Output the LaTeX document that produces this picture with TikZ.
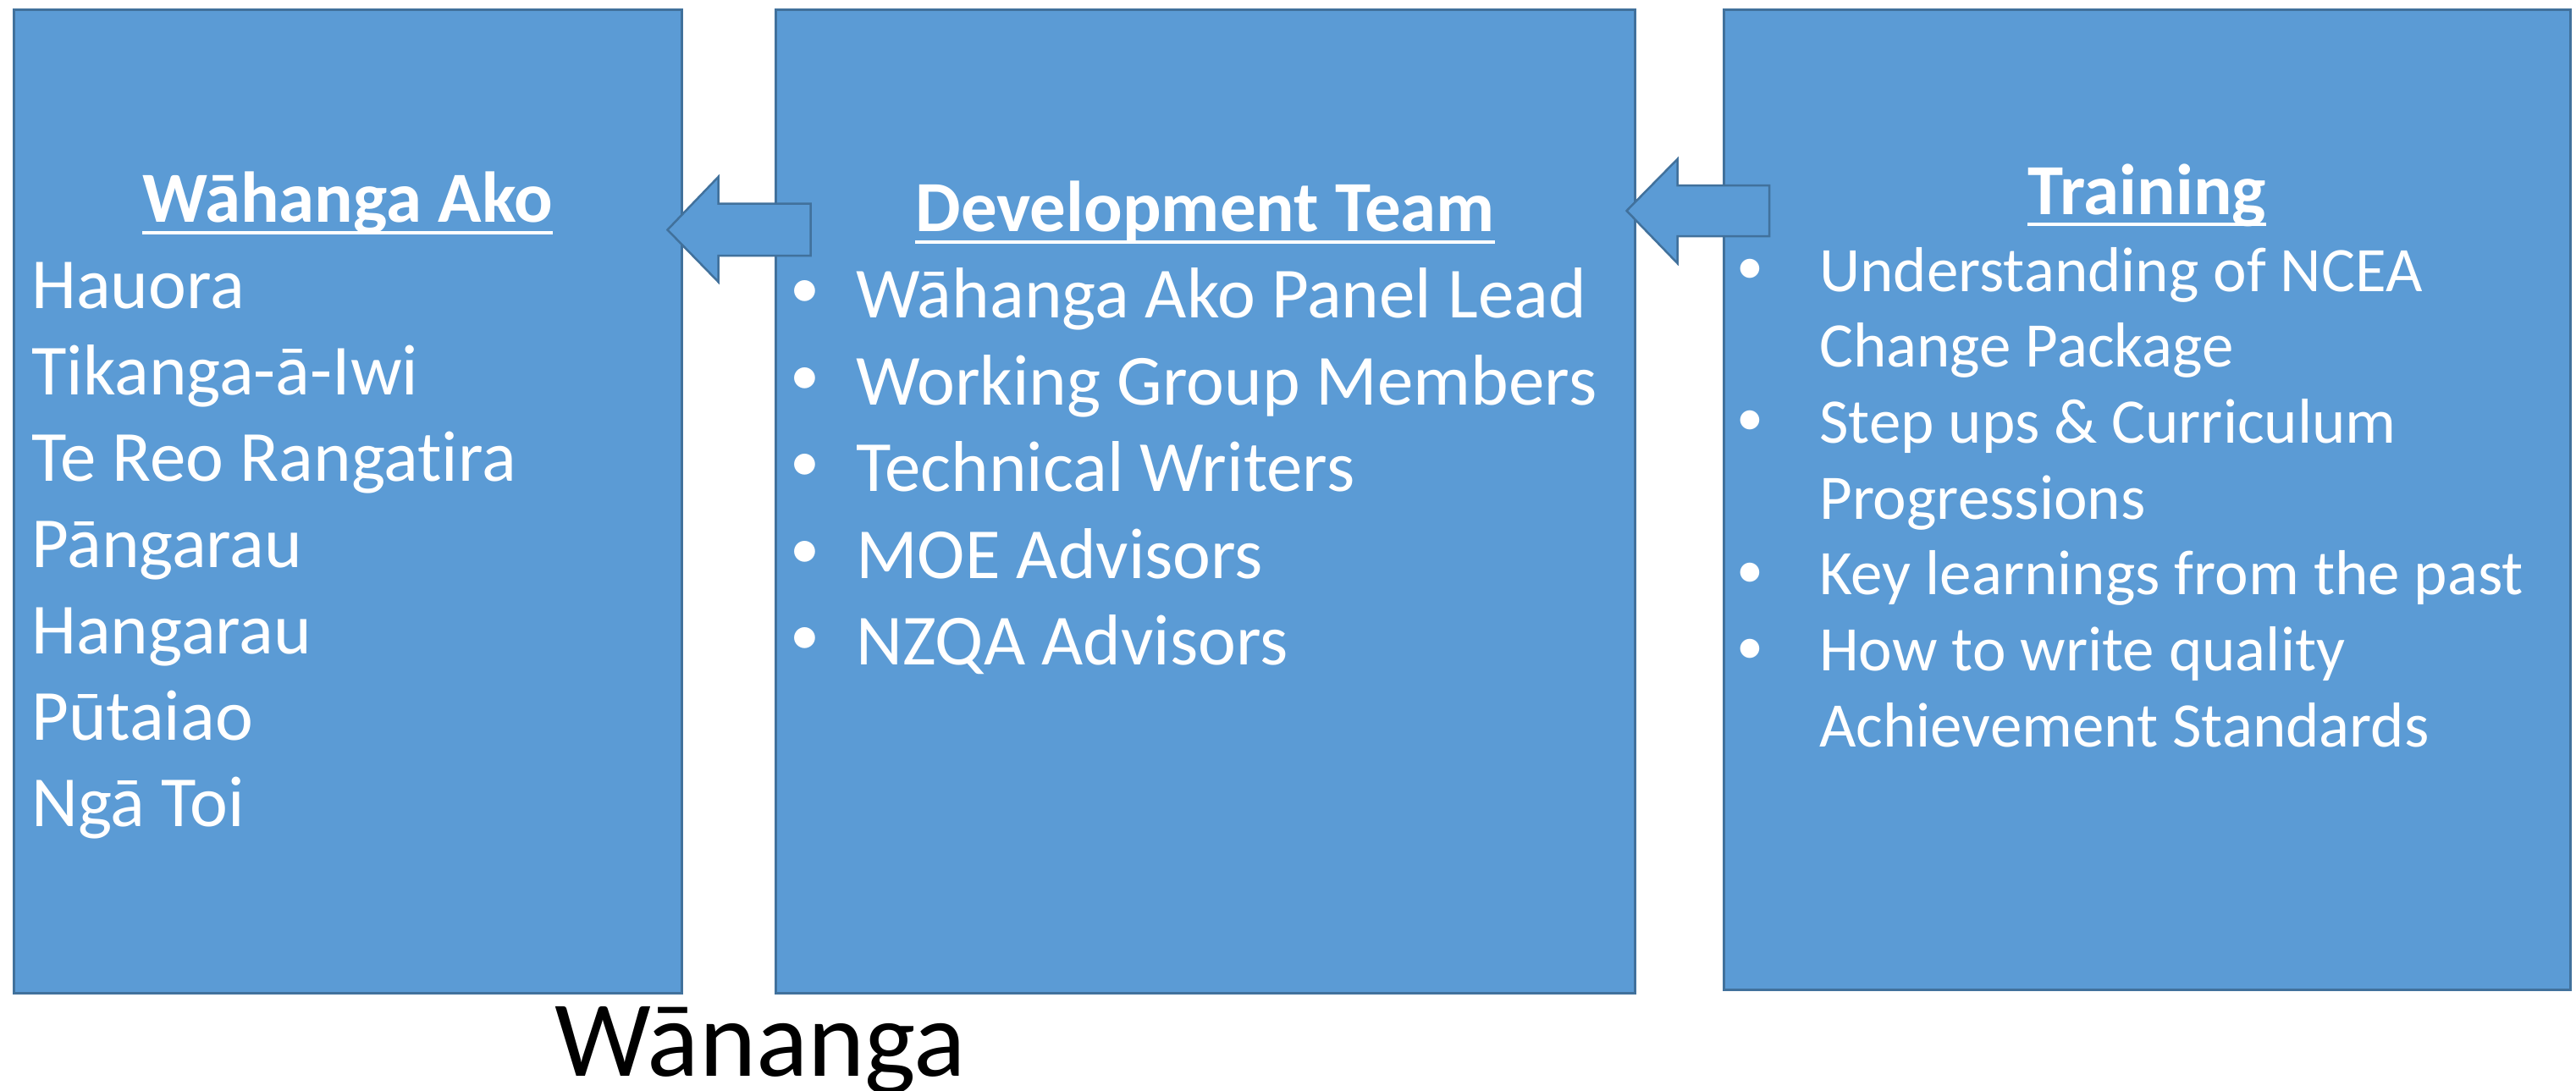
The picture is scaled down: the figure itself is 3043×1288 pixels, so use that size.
\documentclass[tikz,border=0pt]{standalone}
\usepackage{fontspec}
\setmainfont{Carlito}[Ligatures=NoCommon]
\usetikzlibrary{calc, positioning}

\definecolor{panelblue}{HTML}{5B9BD5}
\definecolor{paneledge}{HTML}{41719C}

\begin{document}
\begin{tikzpicture}[
      x=1pt, y=-1pt,
      panel/.style = {
          draw=paneledge,
          fill=panelblue,
          line width=2.5pt,
          rectangle,
          anchor=north west,
          inner sep=0pt,
        },
      blockarrow/.style = {
          draw=paneledge,
          fill=panelblue,
          line width=2.5pt,
          line join=miter,
        },
      head/.style = {
          text=white,
          inner sep=0pt,
          anchor=base,
          font=\bfseries\fontsize{85}{102}\selectfont,
        },
      headline/.style = {
          draw=white,
          line width=4pt,
        },
      subject/.style = {
          text=white,
          inner sep=0pt,
          anchor=base west,
          font=\fontsize{85}{102}\selectfont,
        },
      member/.style = {
          text=white,
          inner sep=0pt,
          anchor=base west,
          font=\fontsize{85}{102}\selectfont,
        },
      point/.style = {
          text=white,
          inner sep=0pt,
          anchor=base west,
          font=\fontsize{75}{90}\selectfont,
        },
      dot/.style = {
          text=white,
          inner sep=0pt,
          anchor=base,
        },
      caption/.style = {
          text=black,
          inner sep=0pt,
          anchor=base,
          font=\fontsize{128}{154}\selectfont,
        },
    ]

    \useasboundingbox (0,0) rectangle (3043,1288);

    \node[panel, minimum width=789pt, minimum height=1162pt] (ako) at (15,10) {};
    \node[panel, minimum width=1015pt, minimum height=1162pt] (devteam) at (915,10) {};
    \node[panel, minimum width=1000pt, minimum height=1158pt] (training) at (2035,10) {};

    \coordinate (akotip) at ($(ako.north east)+(-18,261.5)$);
    \draw[blockarrow] (akotip) -- ++(60,-62.5) -- ++(0,31.5) -- ++(109,0)
      -- ++(0,61.5) -- ++(-109,0) -- ++(0,31) -- cycle;

    \coordinate (devtip) at ($(devteam.north east)+(-11,239)$);
    \draw[blockarrow] (devtip) -- ++(60,-61) -- ++(0,31) -- ++(108.7,0)
      -- ++(0,60) -- ++(-108.7,0) -- ++(0,32) -- cycle;

    \node[head] (akohead) at ($(ako.north)+(0,252)$) {Wāhanga Ako};
    \draw[headline] ([yshift=-13pt]akohead.base west) -- ([yshift=-13pt]akohead.base east);

    \node[head] (devhead) at ($(devteam.north)+(0,263)$) {Development Team};
    \draw[headline] ([yshift=-13pt]devhead.base west) -- ([yshift=-13pt]devhead.base east);

    \node[head] (trainhead) at ($(training.north)+(0,243)$) {Training};
    \draw[headline] ([yshift=-12pt]trainhead.base west) -- ([yshift=-12pt]trainhead.base east);

    \foreach \subj [count=\i] in {Hauora, Tikanga-ā-Iwi, Te Reo Rangatira, Pāngarau, Hangarau, Pūtaiao, Ngā Toi}
      \node[subject] (subj-\i) at (37,{364+102*(\i-1)}) {\subj};

    \foreach \role [count=\i] in {Wāhanga Ako Panel Lead, Working Group Members, Technical Writers, MOE Advisors, NZQA Advisors} {
        \node[member] (role-\i) at (1011,{375.5+102.6*(\i-1)}) {\role};
        \node[dot, font=\fontsize{70}{84}\selectfont, yshift=12pt] (roledot-\i) at (950.7,0 |- role-\i.base) {•};
      }

    \foreach \topic [count=\i] in {Understanding of NCEA, Change Package, Step ups \& Curriculum, Progressions, Key learnings from the past, How to write quality, Achievement Standards}
      \node[point] (topic-\i) at (2149,{344+89.7*(\i-1)}) {\topic};
    \foreach \i in {1,3,5,6}
      \node[dot, font=\fontsize{64}{77}\selectfont, yshift=8.5pt] (topicdot-\i) at (2067.3,0 |- topic-\i.base) {•};

    \node[caption] (wananga) at (898,1271) {Wānanga};

  \end{tikzpicture}
\end{document}
